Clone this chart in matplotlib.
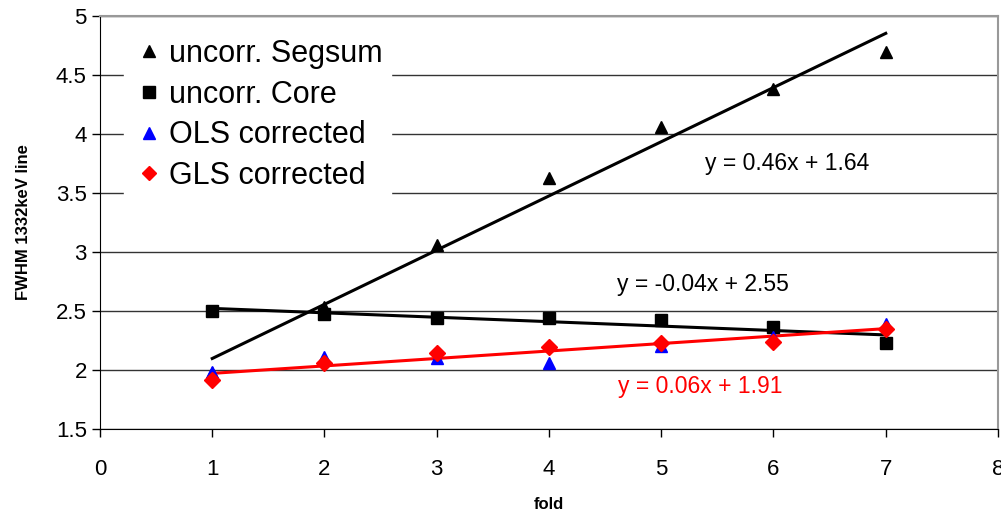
import matplotlib
matplotlib.use("Agg")
import matplotlib.pyplot as plt
import numpy as np

plt.rcParams['font.family'] = ['Liberation Sans', 'DejaVu Sans']

fold = [1, 2, 3, 4, 5, 6, 7]
segsum = [1.97, 2.53, 3.06, 3.63, 4.06, 4.38, 4.69]
core = [2.50, 2.47, 2.44, 2.44, 2.42, 2.36, 2.23]
ols = [1.98, 2.11, 2.10, 2.06, 2.20, 2.28, 2.39]
gls = [1.91, 2.06, 2.14, 2.19, 2.23, 2.24, 2.35]

fig = plt.figure(figsize=(10.01, 5.13), dpi=100)
ax = fig.add_axes([0.0999, 0.164, 0.8971, 0.805])

x = np.array(fold)
# trend lines
for ys, col in [(segsum, 'black'), (core, 'black'), (gls, 'red')]:
    k, b = np.polyfit(x, ys, 1)
    xx = np.array([x.min(), x.max()])
    ax.plot(xx, k * xx + b, color=col, lw=2.2, zorder=3)

ax.plot(fold, segsum, '^', color='black', ms=9, ls='none', label='uncorr. Segsum', zorder=4)
ax.plot(fold, core, 's', color='black', ms=9, ls='none', label='uncorr. Core', zorder=4)
ax.plot(fold, ols, '^', color='blue', ms=9, ls='none', label='OLS corrected', zorder=4)
ax.plot(fold, gls, 'D', color='red', ms=8, ls='none', label='GLS corrected', zorder=5)

ax.text(6.12, 3.75, 'y = 0.46x + 1.64', fontsize=16.5, ha='center', va='center')
ax.text(5.37, 2.72, 'y = -0.04x + 2.55', fontsize=16.5, ha='center', va='center')
ax.text(5.35, 1.86, 'y = 0.06x + 1.91', fontsize=16.5, ha='center', va='center', color='red')

ax.set_xlim(0, 8)
ax.set_ylim(1.5, 5)
ax.set_xticks(range(0, 9))
ax.set_yticks([1.5, 2, 2.5, 3, 3.5, 4, 4.5, 5])
ax.set_yticklabels(['1.5', '2', '2.5', '3', '3.5', '4', '4.5', '5'])
ax.tick_params(axis='both', direction='out', length=6, labelsize=16, width=1)
ax.tick_params(axis='x', pad=16)
ax.yaxis.grid(True, color='#333333', lw=1)
ax.set_axisbelow(True)
for s in ['top', 'right']:
    ax.spines[s].set_color('#999999')
    ax.spines[s].set_linewidth(1.5)
for s in ['left', 'bottom']:
    ax.spines[s].set_color('black')

ax.set_xlabel('fold', fontsize=12, fontweight='bold', labelpad=12)
ax.set_ylabel('FWHM 1332keV line', fontsize=12, fontweight='bold', labelpad=18)

leg = ax.legend(loc='upper left', bbox_to_anchor=(0.01, 1.003), fontsize=22, frameon=True,
                handletextpad=0.15, handlelength=1.0, borderpad=0.3, labelspacing=0.35,
                markerscale=0.9)
leg.get_frame().set_edgecolor('white')
leg.get_frame().set_facecolor('white')
leg.get_frame().set_alpha(1)
leg.set_zorder(6)

fig.savefig('out.png', dpi=100)
